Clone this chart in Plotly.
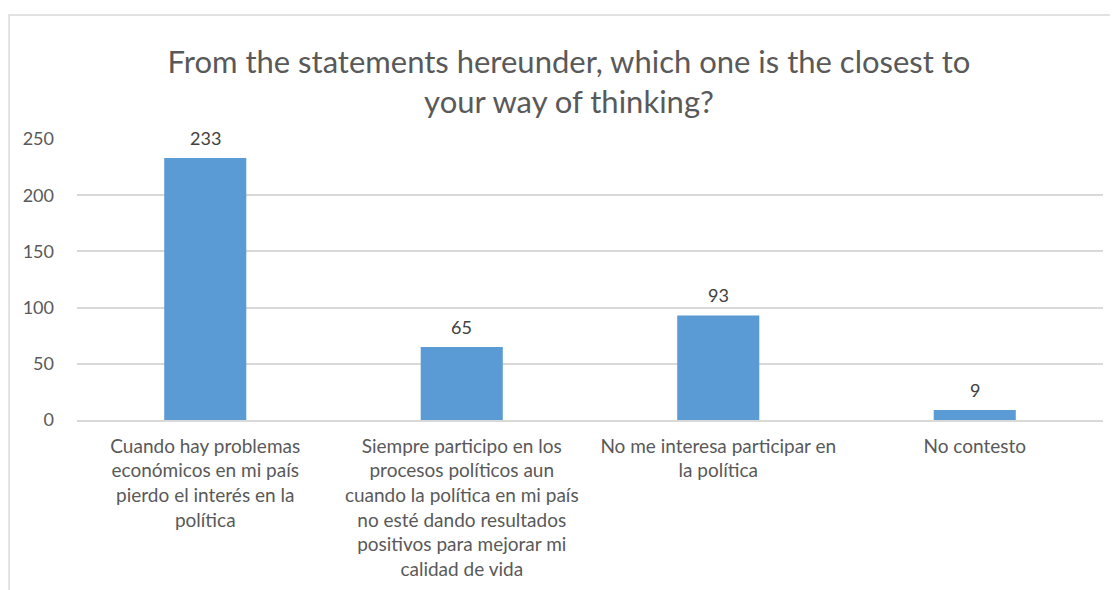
import plotly.graph_objects as go

categories = [
    "Cuando hay problemas<br>económicos en mi país<br>pierdo el interés en la<br>política",
    "Siempre participo en los<br>procesos políticos aun<br>cuando la política en mi país<br>no esté dando resultados<br>positivos para mejorar mi<br>calidad de vida",
    "No me interesa participar en<br>la política",
    "No contesto",
]
values = [233, 65, 93, 9]
y_ticks = [0, 50, 100, 150, 200, 250]

FONT = "Lato, 'Open Sans', sans-serif"
GREY = "#595959"

fig = go.Figure(go.Bar(
    x=categories,
    y=values,
    marker=dict(color="#5B9BD5", line=dict(width=0)),
    width=0.32,
    hoverinfo="skip",
))

for c, v in zip(categories, values):
    fig.add_annotation(x=c, y=v, text=str(v), showarrow=False, yshift=20,
                       font=dict(size=18, color="#404040", family=FONT))

# outer chart frame
fig.add_shape(type="rect", xref="paper", yref="paper",
              x0=-0.0662, x1=1.2, y0=-0.7, y1=1.441,
              line=dict(color="#D9D9D9", width=1.5), layer="below")

fig.update_layout(
    width=1118, height=590,
    margin=dict(l=69, r=23, t=131, b=178),
    paper_bgcolor="white", plot_bgcolor="white",
    showlegend=False,
    bargap=0.68,
    title=dict(
        text="From the statements hereunder, which one is the closest to<br>your way of thinking?",
        x=561 / 1118, xanchor="center", y=1 - 65 / 590, yanchor="middle",
        font=dict(size=31, color=GREY, family=FONT),
    ),
    font=dict(family=FONT, color=GREY),
)
fig.update_xaxes(
    showgrid=False, showline=True, linecolor="#D9D9D9", linewidth=1.5,
    ticks="", tickfont=dict(size=19, color=GREY), tickangle=0, ticklabelstandoff=8,
)
fig.update_yaxes(
    range=[0, 250], tickvals=y_ticks, showgrid=True, gridcolor="#D9D9D9", gridwidth=1.5,
    zeroline=False, showline=False, ticks="", ticklabelstandoff=22,
    tickfont=dict(size=18, color=GREY),
)

fig.write_html("out.html")
